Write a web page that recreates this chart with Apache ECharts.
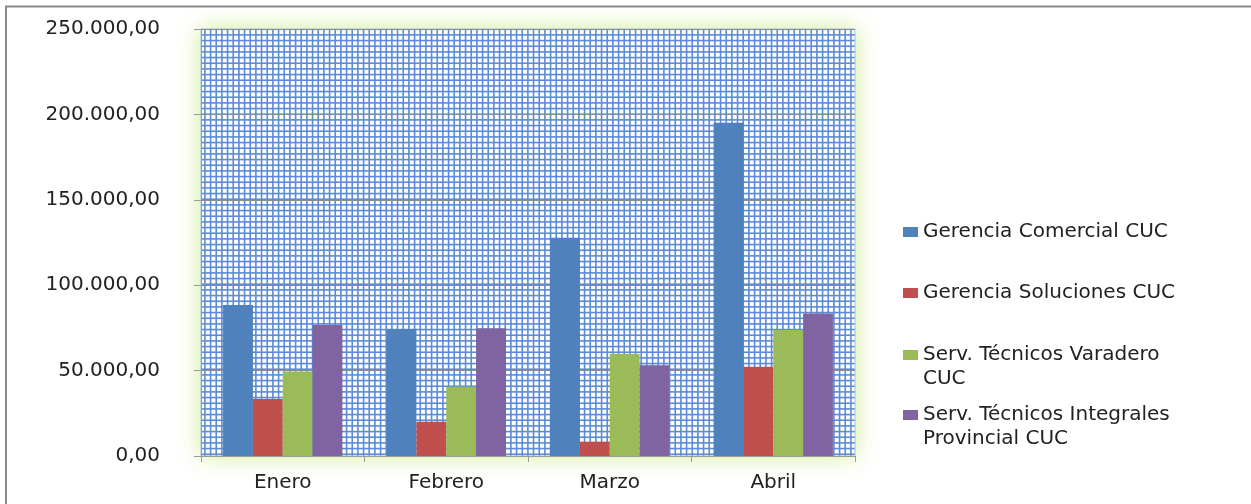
<!DOCTYPE html>
<html>
<head>
<meta charset="utf-8">
<script src="https://cdn.jsdelivr.net/npm/echarts@6/dist/echarts.min.js"></script>
<style>
html,body{margin:0;padding:0;background:#fff;}
#chart{width:1251px;height:504px;}
</style>
</head>
<body>
<div id="chart"></div>
<script>
const categories = ['Enero', 'Febrero', 'Marzo', 'Abril'];
const seriesNames = [
  'Gerencia Comercial CUC',
  'Gerencia Soluciones CUC',
  'Serv. Técnicos Varadero CUC',
  'Serv. Técnicos Integrales Provincial CUC'
];
const legendLabels = [
  'Gerencia Comercial CUC',
  'Gerencia Soluciones CUC',
  'Serv. Técnicos Varadero\nCUC',
  'Serv. Técnicos Integrales\nProvincial CUC'
];
const gerenciaComercial = [88400, 74400, 127800, 195100];
const gerenciaSoluciones = [33400, 20100, 8400, 52300];
const servVaradero = [49400, 40600, 59700, 73800];
const servIntegrales = [76700, 74800, 53100, 83500];
const seriesValues = [gerenciaComercial, gerenciaSoluciones, servVaradero, servIntegrales];
const colors = ['#4F81BD', '#C0504D', '#9BBB59', '#8064A2'];
const yTicks = { min: 0, max: 250000, interval: 50000 };

// fine blue grid pattern for the plot background
const tile = document.createElement('canvas');
tile.width = 17; tile.height = 17;
const tc = tile.getContext('2d');
tc.fillStyle = '#ffffff';
tc.fillRect(0, 0, 17, 17);
tc.strokeStyle = '#5a8ad8';
tc.lineWidth = 1.6;
for (let k = 0; k < 3; k++) {
  const p = k * 17 / 3 + 0.9;
  tc.beginPath(); tc.moveTo(p, 0); tc.lineTo(p, 17); tc.stroke();
  tc.beginPath(); tc.moveTo(0, p); tc.lineTo(17, p); tc.stroke();
}

function fmt(v) {
  const s = Math.round(v).toString().replace(/\B(?=(\d{3})+(?!\d))/g, '.');
  return s + ',00';
}

const FONT = 'DejaVu Sans';
const chart = echarts.init(document.getElementById('chart'), null, { renderer: 'canvas' });

// legend icons: square placed at the first text line inside a tall icon box
const ICON_ONE = 'path://M0,24H15V34H0Z M0,0H0.01V0.01H0Z M14.99,57.99H15V58H14.99Z';
const ICON_TWO = 'path://M0,12H15V22H0Z M0,0H0.01V0.01H0Z M14.99,57.99H15V58H14.99Z';
const legendTops = [203, 264, 338, 398];

const legends = seriesNames.map((n, i) => ({
  orient: 'vertical',
  left: 903,
  top: legendTops[i],
  padding: 0,
  itemWidth: 15,
  itemHeight: 58,
  icon: legendLabels[i].indexOf('\n') >= 0 ? ICON_TWO : ICON_ONE,
  data: [n],
  formatter: function (name) { return legendLabels[seriesNames.indexOf(name)]; },
  textStyle: { fontFamily: FONT, fontSize: 20, color: '#222', lineHeight: 24 }
}));

chart.setOption({
  animation: false,
  backgroundColor: '#ffffff',
  color: colors,
  graphic: [{
    type: 'polyline',
    silent: true,
    shape: { points: [[6, 504], [6, 6.5], [1251, 6.5]] },
    style: { stroke: '#8a8a8a', lineWidth: 2, fill: null }
  }],
  legend: legends,
  grid: {
    show: true,
    left: 201, right: 396, top: 29, bottom: 48,
    backgroundColor: { image: tile, repeat: 'repeat' },
    borderColor: '#a9c0e4',
    borderWidth: 1,
    shadowBlur: 22,
    shadowColor: 'rgba(195,232,125,0.8)',
    containLabel: false
  },
  xAxis: {
    type: 'category',
    data: categories,
    axisLine: { show: true, lineStyle: { color: '#9a9a9a', width: 1 } },
    axisTick: { show: true, length: 6, lineStyle: { color: '#9a9a9a' } },
    axisLabel: { fontFamily: FONT, fontSize: 20, color: '#222', margin: 17 },
    splitLine: { show: false }
  },
  yAxis: {
    type: 'value',
    min: yTicks.min, max: yTicks.max, interval: yTicks.interval,
    axisLine: { show: true, lineStyle: { color: '#9a9a9a', width: 1 } },
    axisTick: { show: true, length: 7, lineStyle: { color: '#9a9a9a' } },
    axisLabel: { fontFamily: FONT, fontSize: 20, color: '#222', margin: 41, formatter: fmt },
    splitLine: { show: true, lineStyle: { color: '#8c8c8c', width: 1 } }
  },
  series: seriesNames.map((n, i) => ({
    name: n,
    type: 'bar',
    data: seriesValues[i],
    barGap: '0%',
    barCategoryGap: '27%',
    itemStyle: { color: colors[i] }
  }))
});
</script>
</body>
</html>
